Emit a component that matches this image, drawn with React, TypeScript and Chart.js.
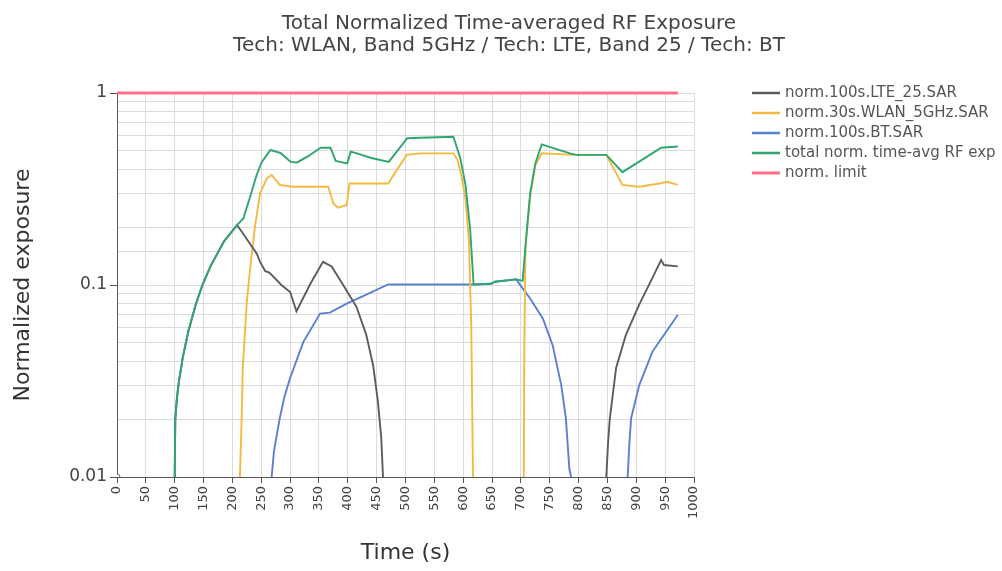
import React, { useEffect, useRef } from 'react';
import { Chart, registerables } from 'chart.js';

Chart.register(...registerables);

const TITLE_LINES = [
  'Total Normalized Time-averaged RF Exposure',
  'Tech: WLAN, Band 5GHz / Tech: LTE, Band 25 / Tech: BT',
];
const X_TITLE = 'Time (s)';
const Y_TITLE = 'Normalized exposure';
const X_MIN = 0;
const X_MAX = 1000;
const X_STEP = 50;
const Y_MIN = 0.01;
const Y_MAX = 1;
const Y_MAJOR_VALUES = [0.01, 0.1, 1];
const Y_MAJOR_LABELS = ['0.01', '0.1', '1'];

const LTE_LABEL = 'norm.100s.LTE_25.SAR';
const LTE_TIME = [0, 50, 100, 101, 104, 107, 114, 124, 137, 148, 162, 185, 208, 216, 242, 248, 257, 264, 285, 300, 311, 334, 357, 372, 392, 415, 432, 444, 452, 458, 461, 600, 848, 851, 854, 865, 882, 905, 928, 943, 948, 972];
const LTE_VALUE = [0.01, null, 0.01, 0.02, 0.026, 0.031, 0.042, 0.058, 0.08, 0.1, 0.125, 0.168, 0.205, 0.19, 0.146, 0.132, 0.118, 0.116, 0.1, 0.092, 0.073, 0.1, 0.132, 0.125, 0.1, 0.077, 0.055, 0.038, 0.025, 0.016, 0.01, null, 0.01, 0.015, 0.02, 0.037, 0.055, 0.079, 0.109, 0.135, 0.127, 0.125];

const WLAN_LABEL = 'norm.30s.WLAN_5GHz.SAR';
const WLAN_TIME = [213, 216, 218, 225, 231, 239, 248, 260, 268, 282, 305, 366, 375, 383, 398, 403, 470, 502, 525, 583, 590, 597, 604, 610, 614, 617, 660, 705, 706, 708, 716, 725, 736, 790, 848, 876, 905, 940, 954, 972];
const WLAN_VALUE = [0.01, 0.02, 0.037, 0.082, 0.124, 0.2, 0.3, 0.36, 0.374, 0.332, 0.325, 0.325, 0.266, 0.253, 0.261, 0.338, 0.338, 0.476, 0.485, 0.485, 0.45, 0.37, 0.28, 0.17, 0.06, 0.01, null, 0.01, 0.05, 0.16, 0.29, 0.42, 0.485, 0.476, 0.476, 0.332, 0.325, 0.338, 0.345, 0.332];

const BT_LABEL = 'norm.100s.BT.SAR';
const BT_TIME = [268, 272, 282, 290, 300, 323, 352, 369, 398, 432, 470, 618, 648, 655, 692, 703, 716, 738, 755, 770, 778, 784, 787, 840, 885, 888, 891, 905, 928, 952, 972];
const BT_VALUE = [0.01, 0.0136, 0.0202, 0.026, 0.0328, 0.0506, 0.071, 0.0718, 0.08, 0.089, 0.1006, 0.1006, 0.1015, 0.104, 0.107, 0.096, 0.085, 0.067, 0.0486, 0.03, 0.0202, 0.011, 0.01, null, 0.01, 0.015, 0.0202, 0.03, 0.045, 0.0573, 0.07];

const TOTAL_LABEL = 'total norm. time-avg RF exp';
const TOTAL_TIME = [100, 101, 104, 107, 114, 124, 137, 148, 162, 185, 208, 219, 231, 242, 251, 266, 284, 301, 312, 330, 353, 370, 379, 399, 405, 416, 439, 471, 503, 526, 583, 595, 604, 612, 618, 648, 655, 692, 703, 708, 716, 725, 736, 785, 796, 848, 876, 905, 943, 972];
const TOTAL_VALUE = [0.01, 0.02, 0.026, 0.031, 0.042, 0.058, 0.08, 0.1, 0.125, 0.168, 0.205, 0.222, 0.29, 0.374, 0.438, 0.505, 0.486, 0.438, 0.435, 0.466, 0.519, 0.519, 0.443, 0.43, 0.495, 0.485, 0.46, 0.438, 0.581, 0.585, 0.592, 0.457, 0.332, 0.197, 0.1006, 0.1015, 0.104, 0.107, 0.105, 0.16, 0.3, 0.43, 0.54, 0.485, 0.476, 0.476, 0.387, 0.439, 0.519, 0.526];

const LIMIT_LABEL = 'norm. limit';
const LIMIT_TIME = [0, 972];
const LIMIT_VALUE = [1, 1];

const FONT = '"DejaVu Sans", Verdana, sans-serif';
const TEXT_COLOR = '#444';
const AXIS_COLOR = '#555';
const GRID_COLOR = '#dcdcdc';

const toPoints = (t: number[], v: (number | null)[]) => t.map((x, i) => ({ x, y: v[i] }));

const isMajor = (v: number) => Y_MAJOR_VALUES.some((m) => Math.abs(v - m) / m < 1e-6);

const overlayPlugin = {
  id: 'overlay',
  afterDraw(chart: any) {
    const ctx = chart.ctx;
    ctx.save();
    ctx.fillStyle = TEXT_COLOR;
    ctx.font = `20px ${FONT}`;
    ctx.textAlign = 'center';
    ctx.textBaseline = 'alphabetic';
    TITLE_LINES.forEach((line, i) => ctx.fillText(line, 509, 29 + i * 22));
    chart.data.datasets.forEach((ds: any, i: number) => {
      const y = 93 + i * 20;
      ctx.strokeStyle = ds.borderColor;
      ctx.lineWidth = i === 4 ? 3 : 2.5;
      ctx.beginPath();
      ctx.moveTo(752, y);
      ctx.lineTo(780, y);
      ctx.stroke();
      ctx.fillStyle = '#555';
      ctx.textAlign = 'left';
      ctx.textBaseline = 'middle';
      ctx.font = `15px ${FONT}`;
      ctx.fillText(ds.label, 785, y);
    });
    ctx.restore();
  },
};

export default function App() {
  const canvasRef = useRef<HTMLCanvasElement | null>(null);

  useEffect(() => {
    if (!canvasRef.current) return;
    const chart = new Chart(canvasRef.current, {
      type: 'line',
      data: {
        datasets: [
          { label: LTE_LABEL, data: toPoints(LTE_TIME, LTE_VALUE), borderColor: '#595d61', backgroundColor: '#fff', borderWidth: 1.9, order: 2,
            pointRadius: (c: any) => (c.dataIndex === 0 ? 3 : 0), pointBorderColor: '#666', pointBorderWidth: 1 },
          { label: WLAN_LABEL, data: toPoints(WLAN_TIME, WLAN_VALUE), borderColor: '#f3b941', borderWidth: 1.9, pointRadius: 0, order: 3 },
          { label: BT_LABEL, data: toPoints(BT_TIME, BT_VALUE), borderColor: '#5b80cf', borderWidth: 1.9, pointRadius: 0, order: 4 },
          { label: TOTAL_LABEL, data: toPoints(TOTAL_TIME, TOTAL_VALUE), borderColor: '#2fa66e', borderWidth: 1.9, pointRadius: 0, order: 1 },
          { label: LIMIT_LABEL, data: toPoints(LIMIT_TIME, LIMIT_VALUE), borderColor: '#ff7088', borderWidth: 3, pointRadius: 0, order: 0, clip: 4 },
        ],
      },
      options: {
        animation: false,
        responsive: false,
        devicePixelRatio: 1,
        spanGaps: false,
        layout: { padding: { left: 0, right: 308, top: 93, bottom: 0 } },
        plugins: { legend: { display: false }, title: { display: false }, tooltip: { enabled: false } },
        scales: {
          x: {
            type: 'linear',
            min: X_MIN,
            max: X_MAX,
            afterFit: (s: any) => { s.height = 94; },
            ticks: { stepSize: X_STEP, autoSkip: false, minRotation: 90, maxRotation: 90, color: TEXT_COLOR, font: { family: FONT, size: 13 }, padding: 3,
              callback: (v: any) => String(v) },
            grid: { color: GRID_COLOR, tickColor: AXIS_COLOR, tickLength: 6 },
            border: { color: AXIS_COLOR, width: 1 },
            title: { display: true, text: X_TITLE, color: '#333', font: { family: FONT, size: 22 }, padding: { top: 4, bottom: 5 } },
          },
          y: {
            type: 'logarithmic',
            min: Y_MIN,
            max: Y_MAX,
            afterFit: (s: any) => { s.width = 117; },
            ticks: {
              autoSkip: false,
              color: TEXT_COLOR,
              font: { family: FONT, size: 17 },
              padding: 3,
              callback: (v: any) => {
                const i = Y_MAJOR_VALUES.findIndex((m) => Math.abs(Number(v) - m) / m < 1e-6);
                return i >= 0 ? Y_MAJOR_LABELS[i] : '';
              },
            },
            grid: {
              color: GRID_COLOR,
              tickLength: 7,
              tickColor: (c: any) => (c.tick && isMajor(c.tick.value) ? AXIS_COLOR : 'rgba(0,0,0,0)'),
            },
            border: { color: AXIS_COLOR, width: 1 },
            title: { display: true, text: Y_TITLE, color: '#333', font: { family: FONT, size: 22 }, padding: { top: 10, bottom: 4 } },
          },
        },
      },
      plugins: [overlayPlugin],
    } as any);
    return () => chart.destroy();
  }, []);

  return (
    <div style={{ position: 'absolute', left: 0, top: 0, width: 1002, height: 571, background: '#fff' }}>
      <canvas ref={canvasRef} width={1002} height={571} style={{ width: 1002, height: 571, display: 'block' }} />
    </div>
  );
}
